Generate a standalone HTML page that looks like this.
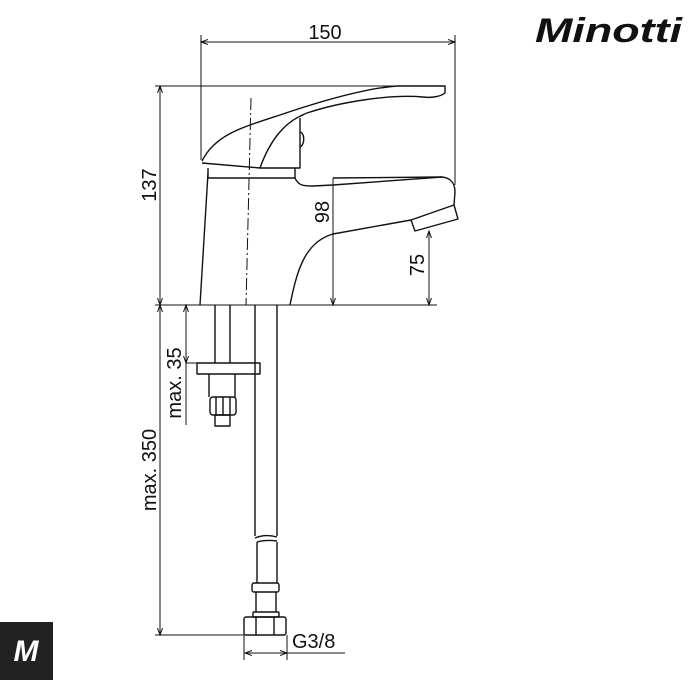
<!DOCTYPE html>
<html><head><meta charset="utf-8"><style>
html,body{margin:0;padding:0;background:#fff;width:700px;height:700px;overflow:hidden}
svg{display:block}
text{font-family:"Liberation Sans",sans-serif;fill:#111}
</style></head><body>
<svg width="700" height="700" viewBox="0 0 700 700" xmlns="http://www.w3.org/2000/svg">
<defs>
<marker id="a" markerWidth="8" markerHeight="8" refX="7" refY="4" orient="auto-start-reverse" markerUnits="userSpaceOnUse">
<path d="M0,1.5 L7,4 L0,6.5" fill="none" stroke="#111" stroke-width="1"/></marker>
</defs>
<g stroke="#111" stroke-width="1" fill="none">
<line x1="201" y1="35" x2="201" y2="160"/>
<line x1="455" y1="35" x2="455" y2="185"/>
<line x1="201" y1="42" x2="455" y2="42" marker-start="url(#a)" marker-end="url(#a)"/>
<line x1="155" y1="86" x2="445" y2="86"/>
<line x1="160" y1="86" x2="160" y2="305" marker-start="url(#a)" marker-end="url(#a)"/>
<line x1="155" y1="305" x2="437" y2="305"/>
<line x1="333" y1="178" x2="333" y2="305" marker-end="url(#a)"/>
<line x1="429" y1="231" x2="429" y2="305" marker-start="url(#a)" marker-end="url(#a)"/>
<line x1="186" y1="305" x2="186" y2="363" marker-start="url(#a)" marker-end="url(#a)"/>
<line x1="186" y1="363" x2="200" y2="363"/>
<line x1="186" y1="363" x2="186" y2="425"/>
<line x1="160" y1="305" x2="160" y2="635" marker-start="url(#a)" marker-end="url(#a)"/>
<line x1="155" y1="635" x2="244" y2="635"/>
<line x1="244" y1="635" x2="244" y2="660"/>
<line x1="287" y1="635" x2="287" y2="660"/>
<line x1="245" y1="653" x2="287" y2="653" marker-start="url(#a)" marker-end="url(#a)"/>
<line x1="287" y1="653" x2="345" y2="653"/>
<line x1="251" y1="98" x2="246" y2="305" stroke-dasharray="12,3,2,3"/>
</g>
<g stroke="#111" stroke-width="1.4" fill="none" stroke-linejoin="round">
<path d="M202,161 C215,135 240,128 280,115 C330,98 370,88 397,86 L445,86 L445,93 C440,97 430,98 423,97 C390,94 340,102 307,113 L300,116"/>
<path d="M260,168 C270,140 285,122 303,115"/>
<path d="M202,163 L260,168 L300,168 L300,118"/>
<path d="M300,132 C305,133 305,145 300,147"/>
<path d="M208,168 L208,178 L295,178 L295,168"/>
<path d="M208,173 L200,305"/>
<path d="M295,178 C298,185 302,186 313,186 L333,185 L442,177 C452,178 455,185 455,192 L454,205"/>
<path d="M454,205 L458,219 L415,231 L411,220 Z"/>
<path d="M411,220 L333,234 C305,242 297,270 290,305"/>
<path d="M333,178 L442,177"/>
<path d="M215,305 V363 M230,305 V363"/>
<rect x="197" y="363" width="63" height="11"/>
<path d="M209,374 V397 M235,374 V397"/>
<rect x="210" y="397" width="26" height="18" rx="3"/>
<path d="M216,397 V415 M230,397 V415 M223,397 V415"/>
<rect x="215" y="415" width="15" height="11"/>
<path d="M255,305 V536 M277,305 V536"/>
<path d="M255,538 C262,535 270,535 277,537"/>
<path d="M257,542 C264,540 270,540 277,541"/>
<path d="M257,542 V583 M277,542 V583"/>
<rect x="252" y="583" width="27" height="9" rx="2"/>
<path d="M256,592 V612 M276,592 V612"/>
<rect x="253" y="612" width="26" height="5" rx="1"/>
<rect x="244" y="617" width="42" height="18" rx="2"/>
<path d="M256,617 V635 M274,617 V635"/>
</g>
<g font-size="20">
<text x="325" y="39" text-anchor="middle">150</text>
<text transform="translate(156,185) rotate(-90)" text-anchor="middle">137</text>
<text transform="translate(329,212) rotate(-90)" text-anchor="middle">98</text>
<text transform="translate(424,265) rotate(-90)" text-anchor="middle">75</text>
<text transform="translate(181,383) rotate(-90)" text-anchor="middle">max. 35</text>
<text transform="translate(156,470) rotate(-90)" text-anchor="middle">max. 350</text>
<text x="292" y="648">G3/8</text>
</g>
<text x="535" y="42" font-size="34" font-weight="bold" font-style="italic" textLength="147" lengthAdjust="spacingAndGlyphs">Minotti</text>
<rect x="0" y="622" width="53" height="58" fill="#222"/>
<text x="26" y="661" font-size="30" font-weight="bold" font-style="italic" text-anchor="middle" style="fill:#fff">M</text>
</svg>
</body></html>
